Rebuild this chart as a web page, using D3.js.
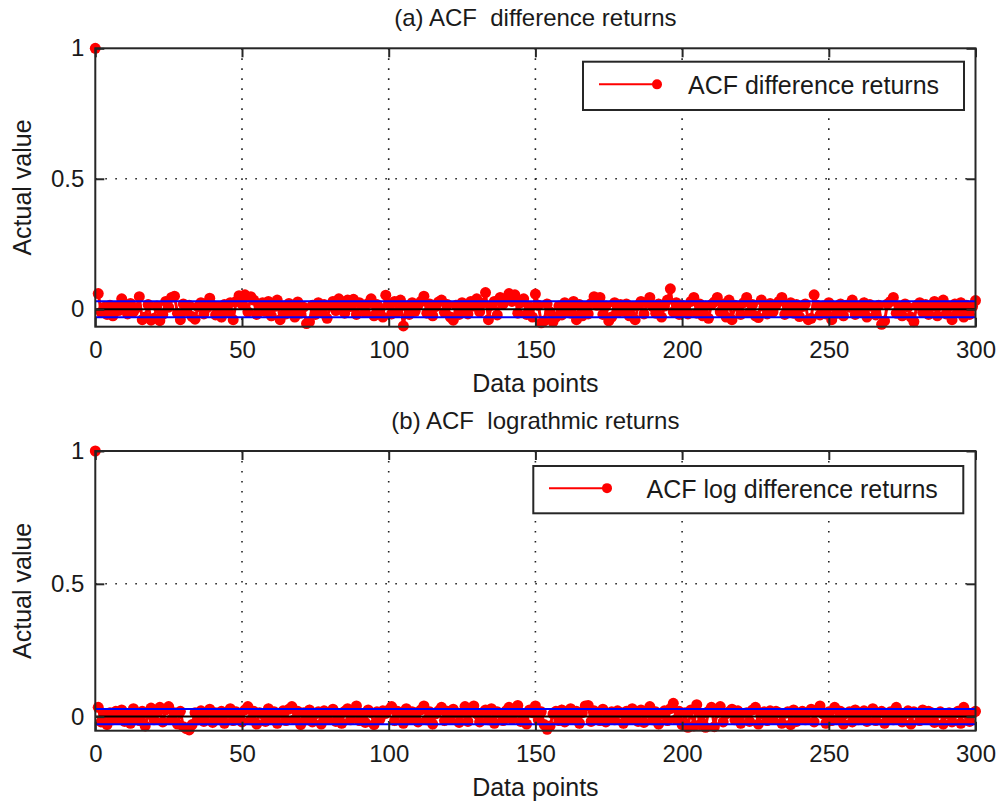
<!DOCTYPE html>
<html>
<head>
<meta charset="utf-8">
<script src="https://cdn.jsdelivr.net/npm/d3@7"></script>
<style>
  body { margin: 0; background: #fff; }
  svg text { font-family: "Liberation Sans", Arial, sans-serif; fill: #1a1a1a; }
</style>
</head>
<body>
<div id="chart"></div>
<script>
const xTicks = [0, 50, 100, 150, 200, 250, 300];
const yTicks = [0, 0.5, 1];

// (a) ACF of difference returns, lags 0..300
const acfDiff = [1,
  0.060, -0.012, 0.008, -0.020, 0.015, -0.025, 0.010, -0.005, 0.040, 0.012,
  -0.018, 0.022, -0.010, 0.005, 0.048, -0.040, -0.030, 0.018, -0.042, -0.035,
  0.012, -0.044, -0.020, 0.030, 0.008, 0.045, 0.050, -0.015, -0.040, 0.020,
  -0.008, 0.015, -0.028, -0.038, 0.010, 0.025, -0.018, 0.005, 0.042, 0.015,
  -0.022, 0.008, -0.030, 0.018, -0.012, 0.025, -0.040, 0.030, 0.052, 0.020,
  0.055, -0.010, 0.048, 0.035, -0.020, 0.015, 0.025, -0.008, 0.030, -0.025,
  0.010, 0.035, -0.040, 0.012, -0.018, 0.022, 0.005, -0.030, 0.028, -0.015,
  0.008, -0.055, -0.048, 0.015, -0.020, 0.025, -0.010, 0.018, -0.035, 0.012,
  0.030, -0.005, 0.040, 0.020, -0.015, 0.035, 0.010, 0.038, -0.020, 0.025,
  0.015, -0.012, 0.022, 0.040, -0.025, 0.018, 0.005, -0.030, 0.054, 0.020,
  -0.018, 0.030, -0.010, 0.035, -0.064, 0.012, -0.020, 0.025, -0.008, 0.015,
  0.030, 0.050, -0.015, 0.020, -0.025, 0.010, 0.028, 0.035, -0.012, 0.018,
  -0.030, -0.042, 0.015, -0.020, 0.025, 0.008, -0.018, 0.030, 0.012, 0.040,
  -0.010, 0.022, 0.064, -0.040, 0.015, 0.030, -0.022, 0.045, 0.020, 0.038,
  0.060, 0.030, 0.055, -0.015, 0.025, 0.040, -0.020, 0.010, -0.030, 0.058,
  0.015, -0.052, -0.045, 0.020, -0.010, -0.048, -0.030, 0.012, -0.022, 0.025,
  0.008, -0.015, 0.030, -0.040, 0.018, -0.025, 0.010, -0.018, 0.022, 0.048,
  0.015, 0.045, -0.020, 0.012, -0.045, -0.030, 0.025, -0.012, 0.018, -0.008,
  0.020, -0.025, 0.010, -0.040, 0.015, 0.030, -0.018, 0.025, 0.045, 0.010,
  -0.015, 0.020, -0.030, 0.012, 0.035, 0.078, -0.010, 0.025, -0.020, 0.015,
  0.010, -0.018, 0.030, 0.045, -0.015, 0.020, -0.025, 0.012, -0.035, 0.018,
  0.028, 0.045, -0.010, 0.020, -0.030, 0.035, -0.040, 0.015, 0.010, -0.020,
  0.025, 0.045, -0.012, 0.018, -0.025, -0.032, 0.035, 0.010, -0.018, 0.022,
  -0.010, 0.015, 0.030, 0.045, -0.020, 0.012, 0.025, -0.015, 0.018, -0.028,
  0.010, 0.020, -0.040, -0.035, 0.055, 0.015, -0.022, 0.012, -0.018, 0.025,
  -0.040, 0.010, -0.015, 0.020, -0.025, 0.015, 0.008, 0.035, -0.020, 0.012,
  -0.010, 0.025, -0.030, 0.018, 0.010, -0.022, 0.015, -0.058, -0.045, 0.020,
  0.030, 0.045, -0.015, 0.012, -0.025, 0.020, 0.008, -0.030, -0.048, 0.015,
  0.025, -0.012, 0.018, -0.020, 0.010, 0.030, -0.025, 0.015, 0.035, -0.018,
  0.012, -0.040, 0.020, -0.010, 0.025, -0.030, 0.015, -0.020, 0.010, 0.033
];

// (b) ACF of log difference returns, lags 0..300
const acfLogDiff = [1,
  0.035, -0.020, 0.010, -0.030, 0.015, -0.012, 0.020, -0.008, 0.025, -0.018,
  0.012, -0.025, 0.030, 0.008, -0.015, 0.020, -0.035, 0.010, 0.032, -0.012,
  0.018, 0.035, -0.020, 0.025, 0.038, -0.010, 0.015, -0.028, 0.020, -0.038,
  -0.045, -0.050, -0.030, 0.015, -0.012, 0.022, -0.018, 0.010, 0.028, -0.022,
  0.015, -0.010, 0.020, -0.025, 0.012, 0.030, -0.015, 0.018, 0.008, -0.020,
  0.025, 0.038, -0.012, 0.020, -0.028, 0.015, 0.010, -0.018, 0.030, -0.008,
  0.018, -0.025, 0.012, 0.022, -0.015, 0.028, 0.038, -0.010, 0.020, -0.030,
  0.015, -0.012, 0.025, -0.020, 0.010, 0.018, -0.028, 0.022, -0.010, 0.015,
  0.028, -0.018, 0.012, -0.025, 0.020, 0.030, -0.012, 0.018, 0.040, -0.015,
  0.010, -0.022, 0.025, 0.015, -0.030, 0.018, -0.010, 0.022, 0.012, 0.025,
  0.038, -0.015, 0.020, 0.012, -0.025, 0.030, -0.010, 0.018, 0.015, -0.020,
  0.025, 0.040, -0.012, 0.018, -0.028, 0.010, 0.022, 0.035, -0.015, 0.020,
  -0.010, 0.028, 0.015, -0.022, 0.012, 0.038, -0.018, 0.020, 0.040, 0.010,
  -0.020, 0.015, 0.025, -0.012, 0.030, -0.025, 0.018, 0.010, -0.015, 0.022,
  0.035, -0.010, 0.020, 0.042, -0.018, 0.012, -0.028, 0.025, 0.015, 0.040,
  -0.012, 0.018, -0.030, -0.048, -0.035, 0.010, 0.020, -0.015, 0.025, -0.020,
  0.012, 0.030, -0.010, 0.020, -0.025, 0.015, 0.040, 0.042, -0.018, 0.022,
  0.010, -0.015, 0.028, -0.020, 0.012, 0.018, -0.012, 0.022, 0.015, -0.025,
  0.020, -0.010, 0.030, 0.012, -0.018, 0.025, -0.022, 0.015, 0.038, -0.012,
  0.018, -0.028, 0.010, 0.022, -0.015, 0.030, 0.050, -0.010, 0.020, -0.030,
  0.015, -0.040, 0.025, -0.035, 0.045, -0.030, 0.012, -0.040, 0.020, 0.035,
  -0.038, 0.015, 0.038, -0.020, 0.010, 0.018, 0.028, -0.012, 0.022, -0.025,
  0.012, 0.015, -0.018, 0.025, 0.035, -0.028, 0.010, 0.018, -0.015, 0.022,
  -0.010, 0.020, 0.015, -0.025, 0.012, 0.018, -0.030, 0.025, -0.018, 0.010,
  0.020, -0.012, 0.015, 0.028, -0.020, 0.022, 0.040, 0.010, -0.025, 0.018,
  -0.015, 0.035, -0.010, 0.020, -0.028, 0.012, 0.018, -0.020, 0.025, -0.012,
  0.010, 0.022, -0.018, 0.015, 0.030, -0.015, 0.012, 0.020, -0.025, 0.010,
  0.018, -0.012, 0.035, 0.015, -0.020, 0.010, 0.022, -0.028, 0.018, 0.012,
  -0.015, 0.025, -0.010, 0.020, 0.015, -0.022, 0.012, 0.018, -0.028, 0.010,
  0.015, -0.020, 0.012, 0.020, -0.025, 0.035, 0.010, -0.018, 0.012, 0.020
];

const panels = [
  {
    title: "(a) ACF  difference returns",
    legend: "ACF difference returns",
    values: acfDiff,
    bound: 0.031,
    yMin: -0.067,
    top: 48.3,
    bottom: 326.7,
    legendBox: [583, 61.7, 964, 110],
    legendLine: [599, 657],
    legendText: 688
  },
  {
    title: "(b) ACF  lograthmic returns",
    legend: "ACF log difference returns",
    values: acfLogDiff,
    bound: 0.029,
    yMin: -0.053,
    top: 451,
    bottom: 730.7,
    legendBox: [533.3, 466, 963.3, 513.3],
    legendLine: [549, 607],
    legendText: 646.5
  }
];

const width = 1005;
const height = 808;
const left = 95.3;
const right = 975.5;

const svg = d3.select("#chart").append("svg")
  .attr("width", width)
  .attr("height", height);

panels.forEach((p) => drawPanel(svg, p));

function drawPanel(svg, p) {
  const x = d3.scaleLinear().domain([0, 300]).range([left, right]);
  const y = d3.scaleLinear().domain([p.yMin, 1]).range([p.bottom, p.top]);
  const axColor = "#262626";

  const g = svg.append("g");

  // dotted grid
  g.append("g")
    .selectAll("line")
    .data(xTicks.slice(1, -1))
    .enter()
    .append("line")
    .attr("x1", (d) => x(d)).attr("x2", (d) => x(d))
    .attr("y1", p.top).attr("y2", p.bottom)
    .style("stroke", "#222")
    .style("stroke-width", 1.6)
    .style("stroke-dasharray", "1.6,8.4");

  g.append("g")
    .selectAll("line")
    .data([0.5])
    .enter()
    .append("line")
    .attr("x1", left).attr("x2", right)
    .attr("y1", (d) => y(d)).attr("y2", (d) => y(d))
    .style("stroke", "#222")
    .style("stroke-width", 1.6)
    .style("stroke-dasharray", "1.6,8.4");

  // ACF series: line (from lag 1) and dots
  const pts = p.values.map((v, i) => ({ lag: i, v: v }));
  const line = d3.line()
    .x((d) => x(d.lag))
    .y((d) => y(d.v));

  g.append("path")
    .attr("d", line(pts.slice(1)))
    .style("fill", "none")
    .style("stroke", "#ff0000")
    .style("stroke-width", 3);

  g.append("g")
    .selectAll("circle")
    .data(pts)
    .enter()
    .append("circle")
    .attr("cx", (d) => x(d.lag))
    .attr("cy", (d) => y(d.v))
    .attr("r", 5.5)
    .style("fill", "#ff0000");

  // confidence bounds and zero line
  [p.bound, -p.bound].forEach((b) => {
    g.append("line")
      .attr("x1", left).attr("x2", right)
      .attr("y1", y(b)).attr("y2", y(b))
      .style("stroke", "#0000ff")
      .style("stroke-width", 2);
  });
  g.append("line")
    .attr("x1", left).attr("x2", right)
    .attr("y1", y(0)).attr("y2", y(0))
    .style("stroke", "#000")
    .style("stroke-width", 2);

  // axes (MATLAB box style, ticks inside)
  const xAxis = d3.axisBottom(x).tickValues(xTicks).tickSizeInner(-9).tickSizeOuter(0).tickPadding(14);
  const xAxisTop = d3.axisTop(x).tickValues(xTicks).tickSizeInner(-9).tickSizeOuter(0).tickFormat("");
  const yAxis = d3.axisLeft(y).tickValues(yTicks).tickSizeInner(-9).tickSizeOuter(0).tickPadding(11)
    .tickFormat((d) => (d === 0.5 ? "0.5" : d3.format("d")(d)));
  const yAxisRight = d3.axisRight(y).tickValues(yTicks).tickSizeInner(-9).tickSizeOuter(0).tickFormat("");

  const gx = g.append("g").attr("transform", "translate(0," + p.bottom + ")").call(xAxis);
  const gxt = g.append("g").attr("transform", "translate(0," + p.top + ")").call(xAxisTop);
  const gy = g.append("g").attr("transform", "translate(" + left + ",0)").call(yAxis);
  const gyr = g.append("g").attr("transform", "translate(" + right + ",0)").call(yAxisRight);

  [gx, gxt, gy, gyr].forEach((a) => {
    a.select(".domain").remove();
    a.selectAll(".tick line").style("stroke", axColor).style("stroke-width", 2);
    a.selectAll(".tick text")
      .style("font-size", "24px")
      .style("fill", "#1a1a1a")
      .style("font-family", '"Liberation Sans", Arial, sans-serif');
  });

  g.append("rect")
    .attr("x", left).attr("y", p.top)
    .attr("width", right - left).attr("height", p.bottom - p.top)
    .style("fill", "none")
    .style("stroke", axColor)
    .style("stroke-width", 2);

  // titles
  g.append("text")
    .attr("x", (left + right) / 2)
    .attr("y", p.top - 22)
    .attr("text-anchor", "middle")
    .style("font-size", "24px")
    .style("white-space", "pre")
    .text(p.title);

  g.append("text")
    .attr("x", (left + right) / 2)
    .attr("y", p.bottom + 65)
    .attr("text-anchor", "middle")
    .style("font-size", "25px")
    .text("Data points");

  g.append("text")
    .attr("transform", "translate(31," + (p.top + p.bottom) / 2 + ") rotate(-90)")
    .attr("text-anchor", "middle")
    .style("font-size", "25px")
    .text("Actual value");

  // legend
  const [bx0, by0, bx1, by1] = p.legendBox;
  const ly = (by0 + by1) / 2 - 1.5;
  g.append("rect")
    .attr("x", bx0).attr("y", by0)
    .attr("width", bx1 - bx0).attr("height", by1 - by0)
    .style("fill", "#fff")
    .style("stroke", axColor)
    .style("stroke-width", 2);
  g.append("line")
    .attr("x1", p.legendLine[0]).attr("x2", p.legendLine[1])
    .attr("y1", ly).attr("y2", ly)
    .style("stroke", "#ff0000")
    .style("stroke-width", 2);
  g.append("circle")
    .attr("cx", p.legendLine[1]).attr("cy", ly)
    .attr("r", 5)
    .style("fill", "#ff0000");
  g.append("text")
    .attr("x", p.legendText)
    .attr("y", ly + 10)
    .style("font-size", "25px")
    .text(p.legend);
}
</script>
</body>
</html>
